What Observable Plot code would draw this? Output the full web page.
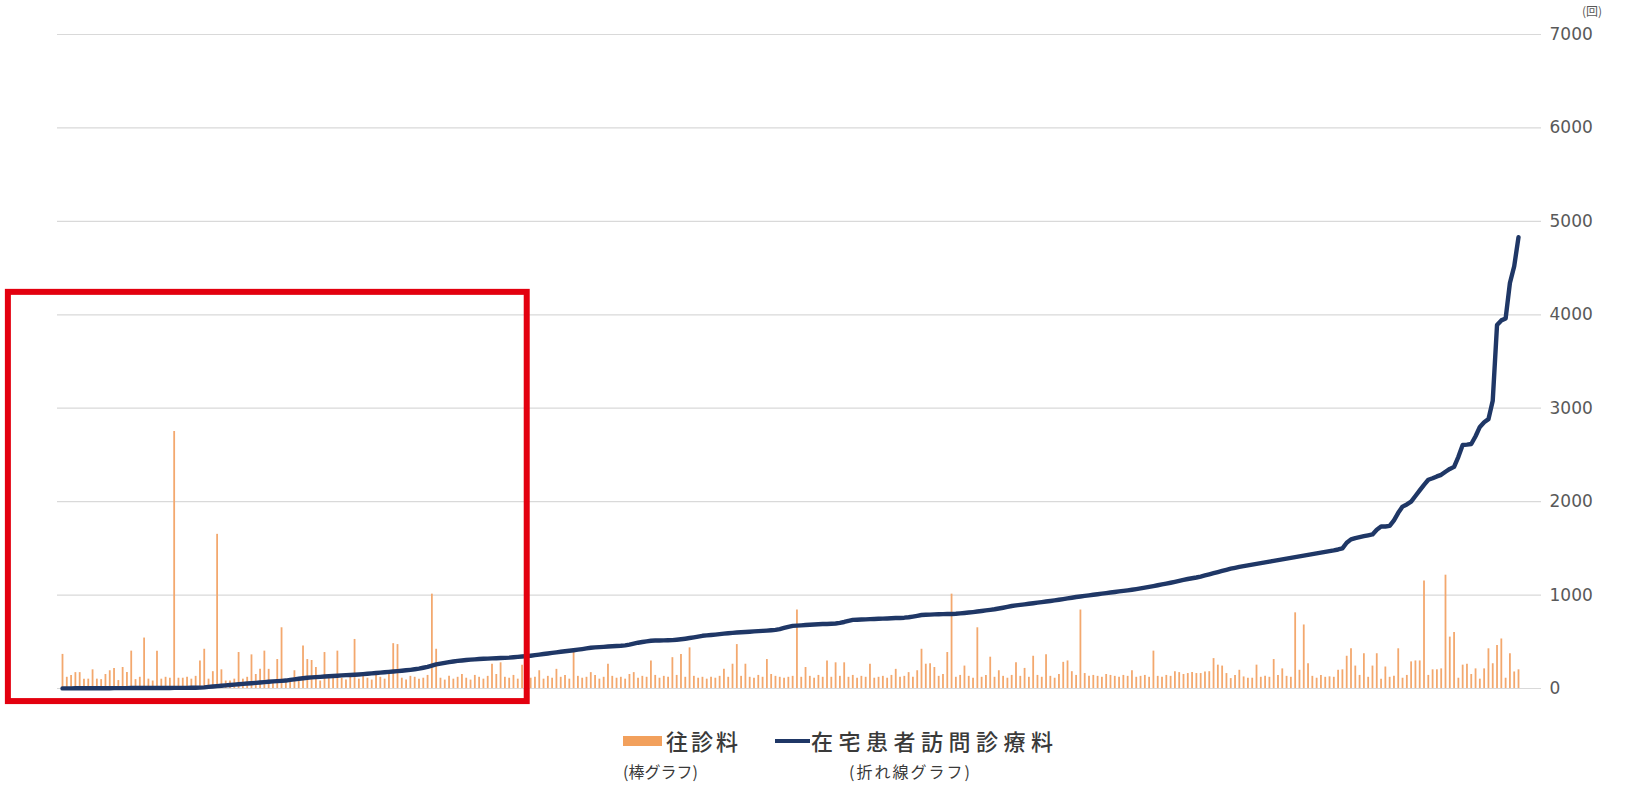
<!DOCTYPE html>
<html>
<head>
<meta charset="utf-8">
<script src="https://cdn.jsdelivr.net/npm/d3@7"></script>
<script src="https://cdn.jsdelivr.net/npm/@observablehq/plot@0.6"></script>
<style>
  html, body { margin: 0; padding: 0; background: #fff; overflow: hidden; }
  #wrap { position: relative; width: 1633px; height: 785px; }
  #chart svg { display: block; }
  .lg { position: absolute; font-family: "Noto Sans CJK JP", "Noto Sans", sans-serif; color: #3a3a3a; white-space: nowrap; line-height: 1; }
</style>
</head>
<body>
<div id="wrap">
  <div id="chart"></div>
</div>
<script>
// ---- Data ----
// 往診料 (bar chart), one value per institution, in order
const barValues = [
  365,120,140,170,170,100,100,200,100,95,
  150,190,215,85,225,170,400,95,120,540,
  100,80,400,100,120,110,2750,110,110,120,
  100,130,295,420,100,180,1650,200,80,80,
  100,385,100,120,360,150,205,400,205,80,
  310,650,100,80,190,80,455,310,300,225,
  80,385,120,150,400,110,90,120,525,100,
  130,110,90,140,120,100,150,480,470,110,
  90,130,120,100,110,140,1010,420,110,90,
  130,100,120,150,110,90,140,120,100,130,
  260,150,275,120,110,140,100,250,130,110,
  120,190,100,130,110,205,120,140,100,385,
  130,110,120,170,140,100,120,260,130,110,
  120,100,150,170,110,130,120,295,140,110,
  130,120,330,140,365,120,435,130,110,120,
  100,120,110,130,205,120,260,470,130,260,
  120,110,140,120,310,150,130,120,110,120,
  130,840,120,225,130,110,140,120,295,120,
  275,130,275,120,140,110,130,120,260,110,
  120,130,110,140,205,120,130,170,120,190,
  420,260,265,225,130,150,385,1010,120,140,
  240,130,110,650,120,140,335,120,190,130,
  110,140,275,130,215,120,345,140,120,360,
  130,110,150,280,295,180,140,840,160,130,
  140,130,120,150,140,130,120,140,130,190,
  120,130,140,120,400,130,120,140,130,180,
  170,150,160,170,160,160,177,180,320,250,
  240,160,106,140,195,124,110,110,250,120,
  130,120,310,140,210,130,120,810,195,680,
  265,130,110,140,120,125,120,195,200,345,
  425,240,140,372,120,240,372,100,230,120,
  130,425,110,140,285,295,295,1150,140,200,
  200,210,1213,550,600,110,250,260,150,210,
  100,210,425,265,460,530,110,372,177,200
];
// 在宅患者訪問診療料 (line chart), same institutions, ascending
const lineValues = [
  1,1,1,2,2,2,2,3,3,3,3,3,4,4,4,4,5,5,5,5,5,6,6,6,6,6,7,7,7,7,8,8,9,
  12,18,22,26,30,34,38,42,46,50,53,56,60,64,68,72,76,79,82,85,
  92,98,104,110,115,119,122,125,128,131,134,137,140,
  143,145,147,150,154,158,162,166,170,174,178,182,186,190,195,200,206,213,
  222,232,245,258,266,274,282,289,295,300,305,309,
  312,315,318,320,322,324,326,328,330,334,338,342,346,351,
  357,363,369,375,381,387,393,399,404,410,416,422,429,436,
  440,443,446,449,452,455,457,462,470,480,490,498,505,511,
  513,514,515,516,518,522,527,533,540,548,556,564,
  568,572,577,582,587,592,596,599,602,605,608,611,614,617,620,624,628,
  636,648,660,670,
  673,676,679,682,685,688,690,691,693,696,702,712,724,734,
  736,738,740,742,744,746,748,750,752,754,755,758,763,770,778,787,
  789,791,793,795,796,797,798,800,804,808,813,818,824,830,836,842,848,856,864,873,883,
  889,895,901,907,913,919,925,931,937,943,950,957,964,971,979,
  985,991,997,1003,1009,1015,1021,1027,1033,1039,1045,1051,1057,1064,
  1072,1080,1088,1096,1105,1114,1123,1132,1142,1152,1162,1172,1180,1188,1198,1210,1222,
  1234,1246,1258,1270,1282,1292,1302,
  1310,1318,1326,1334,1342,1350,1358,1366,1374,1382,
  1390,1398,1406,1414,1422,1430,1438,
  1446,1454,1462,1470,1478,1488,1500,
  1560,1596,1610,1620,1630,1640,1649,
  1700,1734,1734,1740,1800,1880,
  1947,1970,2000,2060,2120,2180,2234,
  2250,2270,2287,2320,2350,2372,2480,
  2606,2610,2617,2700,2800,2850,2883,3080,
  3890,3940,3960,4340,4520,4830
];
const yTicks = [0, 1000, 2000, 3000, 4000, 5000, 6000, 7000];
const unitLabel = "(回)";
const barName = "往診料";
const lineName = "在宅患者訪問診療料";
const barNote = "(棒グラフ)";
const lineNote = "(折れ線グラフ)";
// red highlight box (institution index range, value range)
const highlight = [{i0: -12.6, i1: 108.2, v0: -140, v1: 4240}];

const data = barValues.map((v, i) => ({i, bar: v, line: lineValues[i]}));

const chart = Plot.plot({
  width: 1633,
  height: 712,
  marginLeft: 57,
  marginRight: 92,
  marginTop: 34,
  marginBottom: 24,
  x: {domain: [0, barValues.length - 1], insetLeft: 5, insetRight: 23, axis: null},
  y: {domain: [0, 7000], axis: null},
  style: {fontFamily: "DejaVu Sans, sans-serif", background: "#fff", overflow: "visible"},
  marks: [
    Plot.gridY(yTicks, {stroke: "#d9d9d9", strokeOpacity: 1, strokeWidth: 1.2}),
    Plot.axisY(yTicks, {anchor: "right", tickSize: 0, tickPadding: 8, fontSize: 17, fill: "#595959", label: null, tickFormat: d => String(d)}),
    Plot.ruleX(data, {x: "i", y1: 0, y2: "bar", stroke: "#F3A86E", strokeWidth: 1.8}),
    Plot.line(data, {x: "i", y: "line", stroke: "#1F3766", strokeWidth: 4.4, strokeLinejoin: "round"}),
    Plot.rect(highlight, {x1: "i0", x2: "i1", y1: "v0", y2: "v1", fill: "none", stroke: "#E3000F", strokeWidth: 6})
  ]
});
document.getElementById("chart").appendChild(chart);

const wrap = document.getElementById("wrap");
function addText(txt, left, top, size, extra) {
  const d = document.createElement("div");
  d.className = "lg";
  d.textContent = txt;
  d.style.left = left + "px";
  d.style.top = top + "px";
  d.style.fontSize = size + "px";
  if (extra) Object.assign(d.style, extra);
  wrap.appendChild(d);
  return d;
}
function addSwatch(left, top, w, h, color) {
  const d = document.createElement("div");
  d.style.position = "absolute";
  d.style.left = left + "px";
  d.style.top = top + "px";
  d.style.width = w + "px";
  d.style.height = h + "px";
  d.style.background = color;
  wrap.appendChild(d);
}
addText(unitLabel, 1582, 5, 12, {color: "#595959"});
addSwatch(623, 736, 39, 10, "#F2A05C");
addText(barName, 666, 729, 22, {fontWeight: "500", letterSpacing: "3px"});
addSwatch(775, 739, 35, 4, "#1F3766");
addText(lineName, 811, 729, 22, {fontWeight: "500", letterSpacing: "5.5px"});
addText(barNote, 623, 763, 16);
addText(lineNote, 849, 763, 16, {letterSpacing: "2px"});
</script>
</body>
</html>
